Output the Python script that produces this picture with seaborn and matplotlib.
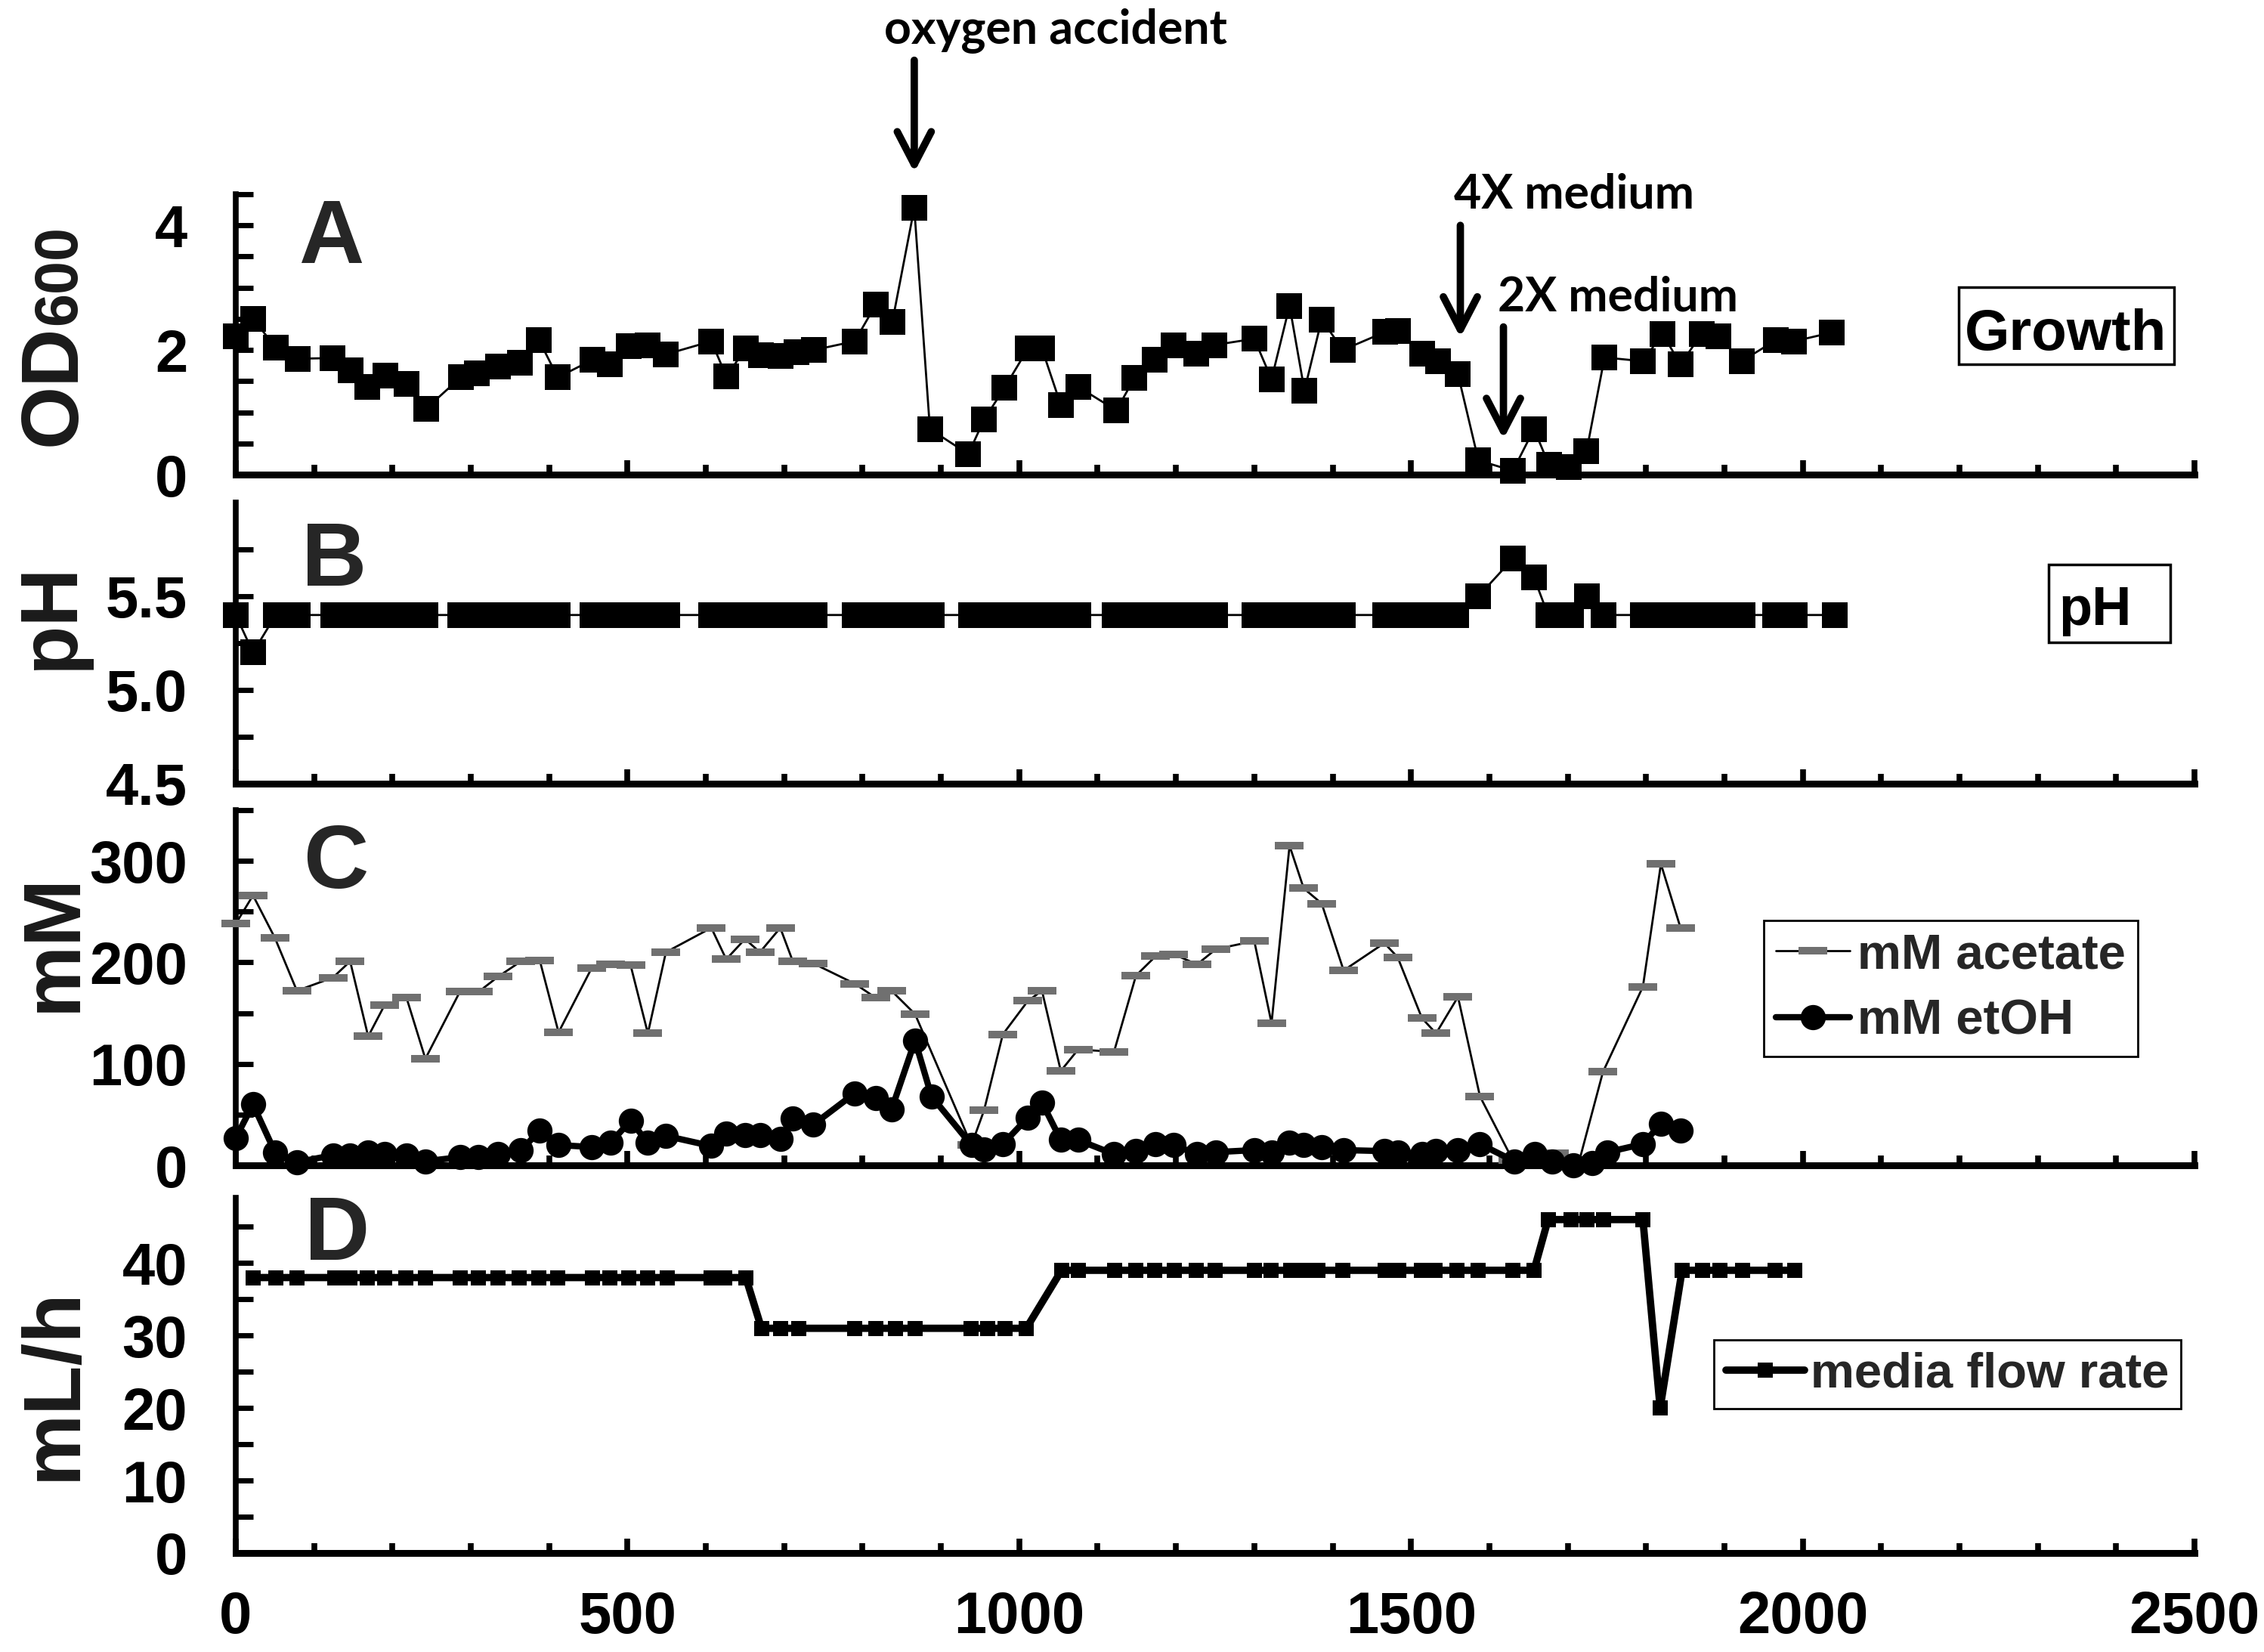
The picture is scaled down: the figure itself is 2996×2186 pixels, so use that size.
import matplotlib
matplotlib.use("Agg")
import matplotlib.pyplot as plt
import seaborn as sns
import numpy as np
from matplotlib.path import Path
from matplotlib.patches import Rectangle
from matplotlib.lines import Line2D
from matplotlib.ticker import MultipleLocator, FixedLocator, FormatStrFormatter

# ---------------- data ----------------
t_od = [0, 22, 51, 79, 123, 147, 168, 191, 218, 243, 287, 308, 335, 363, 387, 411, 455, 477,
        502, 526, 549, 607, 626, 651, 670, 695, 716, 738, 790, 817, 838, 866, 886, 935, 955,
        981, 1011, 1029, 1053, 1075, 1124, 1147, 1173, 1197, 1226, 1249, 1300, 1322, 1345,
        1364, 1386, 1413, 1467, 1483, 1514, 1535, 1560, 1586, 1630, 1657, 1676, 1701, 1724,
        1747, 1796, 1821, 1844, 1871, 1892, 1922, 1966, 1989, 2037]
od = [2.22, 2.50, 2.04, 1.86, 1.87, 1.67, 1.41, 1.59, 1.45, 1.06, 1.56, 1.63, 1.73, 1.80, 2.16,
      1.56, 1.84, 1.77, 2.06, 2.08, 1.93, 2.14, 1.58, 2.02, 1.92, 1.90, 1.96, 2.00, 2.14, 2.73,
      2.45, 4.28, 0.73, 0.33, 0.88, 1.39, 2.02, 2.02, 1.12, 1.41, 1.03, 1.55, 1.84, 2.08, 1.94,
      2.08, 2.18, 1.53, 2.71, 1.35, 2.49, 2.00, 2.29, 2.31, 1.94, 1.82, 1.61, 0.23, 0.06, 0.73,
      0.16, 0.12, 0.37, 1.88, 1.82, 2.26, 1.77, 2.26, 2.22, 1.82, 2.16, 2.14, 2.28]

t_ph = [0, 22, 51, 79, 124, 146, 168, 190, 217, 242, 286, 309, 335, 362, 387, 411, 455, 477,
        502, 526, 551, 607, 625, 651, 671, 695, 719, 739, 790, 817, 842, 867, 888, 938, 960,
        982, 1009, 1030, 1054, 1075, 1122, 1149, 1173, 1198, 1226, 1250, 1300, 1321, 1345,
        1365, 1386, 1413, 1467, 1484, 1513, 1531, 1558, 1586, 1630, 1657, 1675, 1704, 1725,
        1746, 1796, 1818, 1846, 1871, 1894, 1923, 1965, 1990, 2041]
ph = [5.4, 5.2, 5.4, 5.4, 5.4, 5.4, 5.4, 5.4, 5.4, 5.4, 5.4, 5.4, 5.4, 5.4, 5.4, 5.4, 5.4, 5.4,
      5.4, 5.4, 5.4, 5.4, 5.4, 5.4, 5.4, 5.4, 5.4, 5.4, 5.4, 5.4, 5.4, 5.4, 5.4, 5.4, 5.4,
      5.4, 5.4, 5.4, 5.4, 5.4, 5.4, 5.4, 5.4, 5.4, 5.4, 5.4, 5.4, 5.4, 5.4,
      5.4, 5.4, 5.4, 5.4, 5.4, 5.4, 5.4, 5.4, 5.5, 5.7, 5.6, 5.4, 5.4, 5.5,
      5.4, 5.4, 5.4, 5.4, 5.4, 5.4, 5.4, 5.4, 5.4, 5.4]

t_ac = [0, 22, 50, 78, 124, 146, 169, 190, 218, 242, 286, 310, 335, 364, 388, 412, 454, 478,
        504, 526, 549, 607, 626, 650, 669, 695, 711, 737, 790, 817, 837, 867, 939, 955, 979,
        1011, 1029, 1053, 1075, 1121, 1149, 1174, 1197, 1227, 1251, 1300, 1322, 1345, 1363,
        1386, 1414, 1466, 1483, 1514, 1532, 1560, 1588, 1630, 1683, 1715, 1745, 1796, 1819, 1844]
acetate = [238, 266, 224, 172, 185, 201, 127, 158, 165, 105, 171, 171, 186, 201, 202, 131, 194,
           198, 197, 130, 210, 234, 203, 223, 210, 234, 201, 199, 179, 165, 172, 149, 20, 54,
           129, 162, 172, 93, 114, 112, 187, 206, 208, 198, 213, 221, 140, 315, 273, 258, 192,
           219, 205, 145, 130, 166, 68, 5, 12, 5, 92, 176, 297, 234]

t_et = [0, 22, 50, 78, 124, 146, 169, 190, 218, 242, 286, 310, 335, 364, 388, 412, 454, 478,
        504, 526, 549, 607, 626, 650, 669, 695, 711, 737, 790, 817, 837, 867, 888, 939, 955,
        979, 1011, 1029, 1053, 1075, 1121, 1149, 1174, 1197, 1227, 1251, 1300, 1322, 1345,
        1363, 1386, 1414, 1466, 1483, 1514, 1532, 1560, 1588, 1632, 1658, 1680, 1707, 1731,
        1751, 1796, 1819, 1844]
etoh = [27, 60, 13, 3, 10, 10, 13, 11, 10, 4, 8, 8, 11, 15, 34, 20, 18, 22, 44, 22, 29, 19, 31,
        30, 30, 26, 46, 40, 71, 66, 55, 123, 68, 20, 16, 21, 47, 62, 25, 25, 11, 14, 21, 20,
        11, 13, 15, 13, 22, 20, 18, 15, 14, 13, 11, 14, 15, 21, 4, 11, 4, 0, 2, 13, 21, 41, 34]

t_fl = [22, 51, 78, 126, 146, 168, 190, 217, 242, 286, 310, 335, 362, 387, 411, 455, 477, 502,
        526, 551, 607, 624, 651, 671, 695, 719, 790, 817, 842, 867, 938, 960, 982, 1009, 1054,
        1075, 1122, 1149, 1173, 1198, 1226, 1250, 1300, 1321, 1346, 1365, 1381, 1413, 1467,
        1484, 1513, 1531, 1559, 1586, 1630, 1657, 1675, 1704, 1725, 1746, 1796, 1818, 1846,
        1872, 1894, 1923, 1965, 1990]
flow = [38, 38, 38, 38, 38, 38, 38, 38, 38, 38, 38, 38, 38, 38, 38, 38, 38, 38, 38, 38, 38, 38,
        38, 31, 31, 31, 31, 31, 31, 31, 31, 31, 31, 31, 39, 39, 39, 39, 39, 39, 39, 39, 39, 39,
        39, 39, 39, 39, 39, 39, 39, 39, 39, 39, 39, 39, 46, 46, 46, 46, 46, 20, 39, 39, 39, 39,
        39, 39]

x_ticks = [0, 500, 1000, 1500, 2000, 2500]

# ---------------- style ----------------
sns.set_theme(style="ticks")
plt.rcParams['font.family'] = ['Liberation Sans', 'DejaVu Sans']
plt.rcParams['font.weight'] = 'bold'
plt.rcParams['axes.unicode_minus'] = False

W, H = 2996, 2186
fig = plt.figure(figsize=(W / 100, H / 100), dpi=100)
fig.patch.set_facecolor('white')


def rect(top, bottom):
    return [312 / W, 1 - bottom / H, (2904 - 312) / W, (bottom - top) / H]


axA = fig.add_axes(rect(257, 628))
axB = fig.add_axes(rect(665, 1037))
axC = fig.add_axes(rect(1072, 1542))
axD = fig.add_axes(rect(1585, 2055))
axes = [axA, axB, axC, axD]

GRAY = '#707070'
acet_marker = Path([(-1, -0.28), (1, -0.28), (1, 0.28), (-1, 0.28), (-1, -0.28)],
                   [Path.MOVETO, Path.LINETO, Path.LINETO, Path.LINETO, Path.CLOSEPOLY])

common = dict(estimator=None, sort=False, clip_on=False, zorder=3)

sns.lineplot(x=t_od, y=od, ax=axA, color='black', lw=2, marker='s', markersize=24,
             markerfacecolor='black', markeredgecolor='black', markeredgewidth=0, **common)
sns.lineplot(x=t_ph, y=ph, ax=axB, color='black', lw=2, marker='s', markersize=24,
             markerfacecolor='black', markeredgecolor='black', markeredgewidth=0, **common)
sns.lineplot(x=t_ac, y=acetate, ax=axC, color='black', lw=2, marker=acet_marker,
             markersize=27.5, markerfacecolor=GRAY, markeredgecolor=GRAY,
             markeredgewidth=0, **common)
sns.lineplot(x=t_et, y=etoh, ax=axC, color='black', lw=6, marker='o', markersize=24,
             markerfacecolor='black', markeredgecolor='black', markeredgewidth=0,
             estimator=None, sort=False, clip_on=False, zorder=4)
sns.lineplot(x=t_fl, y=flow, ax=axD, color='black', lw=7, marker='s', markersize=14,
             markerfacecolor='black', markeredgecolor='black', markeredgewidth=0, **common)

for ax in axes:
    ax.set_xlim(0, 2500)
    ax.xaxis.set_major_locator(FixedLocator(x_ticks))
    ax.xaxis.set_minor_locator(MultipleLocator(100))
    ax.spines['top'].set_visible(False)
    ax.spines['right'].set_visible(False)
    ax.spines['left'].set_linewidth(5.5)
    ax.spines['bottom'].set_linewidth(6.5)
    ax.spines['left'].set_color('black')
    ax.spines['bottom'].set_color('black')
    ax.tick_params(axis='x', which='major', direction='in', length=14, width=5.5,
                   labelsize=56, pad=35, color='black', labelcolor='black')
    ax.tick_params(axis='x', which='minor', direction='in', length=9.5, width=5.5,
                   color='black')
    ax.tick_params(axis='y', which='both', direction='in', length=16.5, width=5,
                   labelsize=56, pad=46, color='black', labelcolor='black')
    ax.set_facecolor('white')
    ax.grid(False)
    ax.set_xlabel('')
    ax.set_ylabel('')

for ax in [axA, axB, axC]:
    ax.tick_params(axis='x', labelbottom=False)

axA.set_ylim(0, 4.5)
axA.yaxis.set_major_locator(FixedLocator([0, 2, 4]))
axA.yaxis.set_minor_locator(MultipleLocator(0.5))

axB.set_ylim(4.5, 6.0)
axB.yaxis.set_major_locator(FixedLocator([4.5, 5.0, 5.5]))
axB.yaxis.set_major_formatter(FormatStrFormatter('%.1f'))
axB.yaxis.set_minor_locator(FixedLocator([4.75, 5.25, 5.75]))

axC.set_ylim(0, 350)
axC.yaxis.set_major_locator(FixedLocator([0, 100, 200, 300]))
axC.yaxis.set_minor_locator(MultipleLocator(50))

axD.set_ylim(0, 49)
axD.yaxis.set_major_locator(FixedLocator([0, 10, 20, 30, 40]))
axD.yaxis.set_minor_locator(MultipleLocator(5))

for ax in axes:
    for lab in ax.get_xticklabels() + ax.get_yticklabels():
        lab.set_fontweight('bold')

# ---------------- y labels ----------------
LBL = '#1a1a1a'
fig.text(100 / W, 1 - 590 / H, 'OD', rotation=90, rotation_mode='anchor', ha='left',
         va='baseline', fontsize=77, fontweight='bold', color=LBL)
fig.text(100 / W, 1 - 430 / H, '600', rotation=90, rotation_mode='anchor', ha='left',
         va='baseline', fontsize=57, fontweight='bold', color=LBL)
fig.text(96 / W, 1 - 815 / H, 'pH', rotation=90, rotation_mode='anchor', ha='center',
         va='baseline', fontsize=77, fontweight='bold', color=LBL)
fig.text(100 / W, 1 - 1247 / H, 'mM', rotation=90, rotation_mode='anchor', ha='center',
         va='baseline', fontsize=77, fontweight='bold', color=LBL)
fig.text(100 / W, 1 - 1831 / H, 'mL/h', rotation=90, rotation_mode='anchor', ha='center',
         va='baseline', fontsize=77, fontweight='bold', color=LBL)

# ---------------- panel letters ----------------
for letter, (px, py) in zip('ABCD', [(395, 348), (399, 775), (401, 1175), (403, 1667)]):
    fig.text(px / W, 1 - py / H, letter, ha='left', va='baseline', fontsize=86,
             fontweight='bold', color='#262626')

# ---------------- boxed labels ----------------
fig.add_artist(Rectangle((2592 / W, 1 - 482 / H), (2877 - 2592) / W, (482 - 380) / H,
                         transform=fig.transFigure, facecolor='white', edgecolor='black',
                         lw=2.5, zorder=5))
fig.text(2734 / W, 1 - 463 / H, 'Growth', ha='center', va='baseline', fontsize=55,
         fontweight='bold', color='black', zorder=6)
fig.add_artist(Rectangle((2711 / W, 1 - 850 / H), (2872 - 2711) / W, (850 - 747) / H,
                         transform=fig.transFigure, facecolor='white', edgecolor='black',
                         lw=2.5, zorder=5))
fig.text(2772 / W, 1 - 827 / H, 'pH', ha='center', va='baseline', fontsize=52,
         fontweight='bold', color='black', zorder=6)

# ---------------- legends ----------------
hC = [Line2D([], [], color='black', lw=2, marker=acet_marker, markersize=27.5,
             markerfacecolor=GRAY, markeredgecolor=GRAY, markeredgewidth=0),
      Line2D([], [], color='black', lw=6, marker='o', markersize=24,
             markerfacecolor='black', markeredgecolor='black', markeredgewidth=0,
             solid_capstyle='round')]
legC = fig.legend(hC, ['mM acetate', 'mM etOH'], loc='upper left',
                  bbox_to_anchor=(2334 / W, 1 - 1218 / H), prop={'size': 47, 'weight': 'bold'},
                  frameon=True, fancybox=False, framealpha=1, edgecolor='black',
                  borderpad=0.25, handlelength=1.5, handletextpad=0.15, labelspacing=0.42,
                  borderaxespad=0)
legC.get_frame().set_linewidth(2)

hD = [Line2D([], [], color='black', lw=7, marker='s', markersize=14,
             markerfacecolor='black', markeredgecolor='black', markeredgewidth=0)]
legD = fig.legend(hD, ['media flow rate'], loc='upper left',
                  bbox_to_anchor=(2268 / W, 1 - 1773 / H), prop={'size': 47, 'weight': 'bold'},
                  frameon=True, fancybox=False, framealpha=1, edgecolor='black',
                  borderpad=0.24, handlelength=1.6, handletextpad=0.12, borderaxespad=0)
legD.get_frame().set_linewidth(2)

# ---------------- annotations ----------------
ann_font = dict(fontsize=45, fontweight='bold', family=['Lato', 'Liberation Sans', 'DejaVu Sans'],
                color='black', ha='center', va='baseline', clip_on=False)
arrow = dict(arrowstyle='->,head_length=0.52,head_width=0.27', mutation_scale=60, lw=7,
             color='black', shrinkA=0, shrinkB=0)
axA.text(1046, 6.93, 'oxygen accident', **ann_font)
axA.annotate('', xy=(866, 4.85), xytext=(866, 6.65), arrowprops=arrow, annotation_clip=False)
axA.text(1708, 4.27, '4X medium', **ann_font)
axA.annotate('', xy=(1563, 2.2), xytext=(1563, 4.0), arrowprops=arrow, annotation_clip=False)
axA.text(1764, 2.63, '2X medium', **ann_font)
axA.annotate('', xy=(1618, 0.57), xytext=(1618, 2.37), arrowprops=arrow, annotation_clip=False)

fig.savefig('out.png', dpi=100, facecolor='white')
